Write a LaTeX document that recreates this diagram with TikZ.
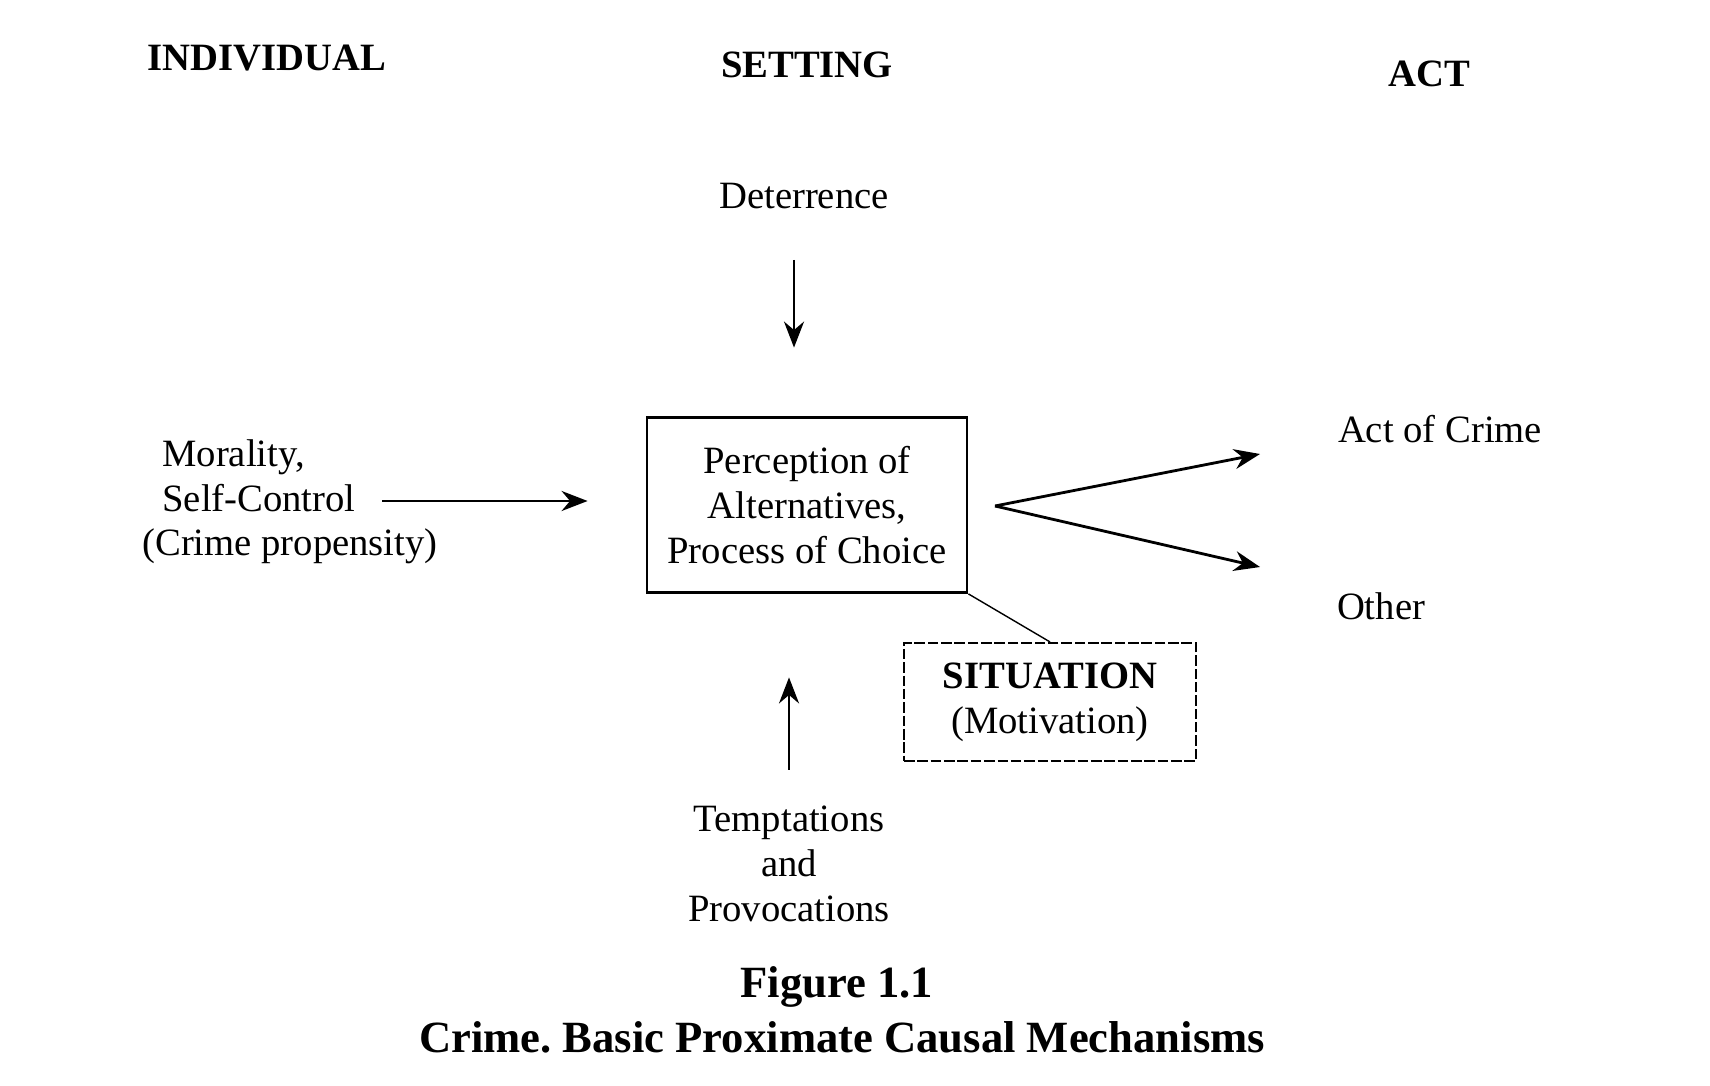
\documentclass[tikz,border=0pt]{standalone}
\usepackage{fontspec}
\setmainfont{Liberation Serif}
\usepackage{tikz}
\usetikzlibrary{arrows,arrows.meta,shapes,positioning}
\tikzstyle{arrow} = [thick,->,>={Stealth[length=2.6mm,width=2mm]}]
\tikzstyle{txt} = [font=\fontsize{11}{12.7}\selectfont, align=center]
\tikzstyle{hdr} = [font=\fontsize{11}{12.7}\selectfont\bfseries]
\tikzstyle{mainbox} = [draw, thick, minimum width=3.2cm, minimum height=1.75cm, txt]
\tikzstyle{sitbox} = [draw, semithick, dash pattern=on 3pt off 0.8pt, minimum width=2.92cm, minimum height=1.18cm, txt]
\frenchspacing

\begin{document}
\begin{tikzpicture}
\useasboundingbox (0,0) rectangle (17.1,10.85);

% Column headings
\node[hdr] (individual) at (2.67,10.27) {INDIVIDUAL};
\node[hdr] (setting) at (8.07,10.20) {SETTING};
\node[hdr] (act) at (14.29,10.11) {ACT};

% Central box
\node[mainbox] (main) at (8.07,5.80) {Perception of\\Alternatives,\\Process of Choice};

% Inputs
\node[txt] (deter) at (8.04,8.89) {Deterrence};
\node[txt, align=left] (moral) at (2.90,5.83) {\hspace*{0.2cm}Morality,\\\hspace*{0.2cm}Self-Control\\(Crime propensity)};
\node[txt] (tempt) at (7.89,2.21) {Temptations\\and\\Provocations};
\node[sitbox] (sit) at (10.50,3.83) {\textbf{SITUATION}\\(Motivation)};

% Outcomes
\node[txt] (crime) at (14.40,6.56) {Act of Crime};
\node[txt] (other) at (13.81,4.79) {Other};

\coordinate (det-out) at (7.94,8.25);
\coordinate (mor-out) at (3.82,5.84);
\coordinate (fork) at (9.95,5.79);
\coordinate (to-crime) at (12.60,6.31);
\coordinate (to-other) at (12.60,5.18);

\draw[arrow, shorten >=0.685cm] (det-out) -- (det-out |- main.north);
\draw[arrow, shorten >=0.58cm] (mor-out) -- (mor-out -| main.west);
\draw[arrow, shorten <=0.24cm, shorten >=0.835cm] (tempt.north) -- (tempt.north |- main.south);
\draw[arrow] (fork) -- (to-crime);
\draw[arrow] (fork) -- (to-other);
\draw[thin] (main.south east) -- (sit.north);

% Caption
\node[font=\fontsize{12.7}{14.2}\selectfont\bfseries] (fig) at (8.37,0.98) {Figure 1.1};
\node[font=\fontsize{12.7}{14.2}\selectfont\bfseries] (caption) at (8.42,0.48) {Crime. Basic Proximate Causal Mechanisms};
\end{tikzpicture}
\end{document}
